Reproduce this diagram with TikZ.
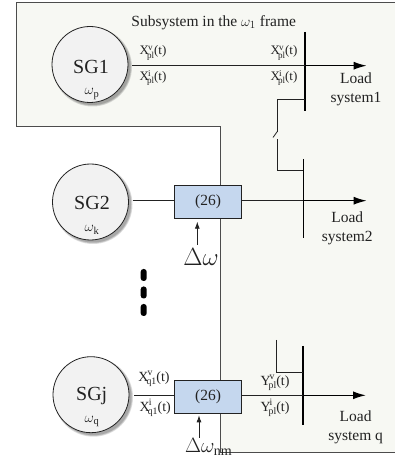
\documentclass[tikz,border=0pt]{standalone}
\usepackage{fontspec}
\setmainfont{Liberation Serif}
\usetikzlibrary{arrows.meta}
\definecolor{bgc}{HTML}{F7F8F3}
\definecolor{boxc}{HTML}{C5D7EE}
\definecolor{sgc}{HTML}{F2F2F2}
\definecolor{linec}{HTML}{222222}
\newcommand{\sgn}[3]{$\mathrm{#1}^{\kern-1pt\mathrm{#2}}_{\kern-2pt\mathrm{#3}}$\kern-0.5pt(t)}
\tikzset{
  x=1pt,y=1pt,
  gen/.style={circle,draw=linec,fill=sgc,line width=0.8pt,minimum size=76pt,inner sep=0pt},
  genshadow/.style={circle,fill=black,opacity=0.13,inner sep=0pt},
  gname/.style={font=\fontsize{20}{20}\selectfont,text=linec,inner sep=0pt},
  gfreq/.style={font=\fontsize{15}{15}\selectfont,text=linec,inner sep=0pt},
  eqbox/.style={draw=linec,fill=boxc,line width=0.9pt,minimum width=67pt,minimum height=33.5pt,inner sep=0pt,font=\fontsize{15.5}{15.5}\selectfont,text=linec},
  wire/.style={draw=linec,line width=0.8pt},
  bus/.style={draw=black,line width=1.4pt},
  feed/.style={draw=black,line width=1.4pt,-{Latex[length=13pt,width=8pt]}},
  lab/.style={font=\fontsize{13}{13}\selectfont,text=linec,inner sep=0pt},
  labb/.style={font=\fontsize{14}{14}\selectfont,text=linec,inner sep=0pt},
  load/.style={font=\fontsize{15.5}{19}\selectfont,text=linec,align=center,inner sep=0pt},
  bigdot/.style={fill=black,rounded corners=2.8pt,inner sep=0pt,minimum width=6pt,minimum height=12pt},
  dw/.style={font=\fontsize{24}{24}\selectfont,text=linec,inner sep=0pt},
}
\begin{document}
\begin{tikzpicture}
\useasboundingbox (0,0) rectangle (395,456);
% background frame
\draw[draw=black!70,fill=bgc,line width=0.8pt] (395,453.3) -- (16.7,453.3) -- (16.7,329.3) -- (220.3,329.3) -- (220.3,4) -- (395,4);
% generators
\foreach \cx/\cy in {90/391.5,90.5/254,91/61.3}{
  \foreach \s in {76,77.5,79}{
    \node[genshadow,minimum size=\s pt] at (\cx+2.5,\cy-2.5) {};
  }
}
\node[gen] (sg1) at (90,391.5) {};
\node[gen] (sg2) at (90.5,254) {};
\node[gen] (sgj) at (91,61.3) {};
\node[gname] at (91,389.3) {SG1};
\node[gname] at (92,253.3) {SG2};
\node[gname] at (91.7,60) {SGj};
\node[gfreq] at (92,362) {$\omega_{\mathrm{p}}$};
\node[gfreq] at (92,226) {$\omega_{\mathrm{k}}$};
\node[gfreq] at (92,34.5) {$\omega_{\mathrm{q}}$};
% boxes
\node[eqbox] (b2) at (208,254) {(26)};
\node[eqbox] (bj) at (208,59) {(26)};
% buses
\coordinate (b1t) at (305,424); \coordinate (b1b) at (305,345);
\coordinate (b2t) at (303.3,297); \coordinate (b2b) at (303.3,218);
\coordinate (b3t) at (303,110); \coordinate (b3b) at (303,31);
\draw[bus] (b1t) -- (b1b);
\draw[bus] (b2t) -- (b2b);
\draw[bus] (b3t) -- (b3b);
% feeders
\coordinate (e1) at (366.7,390.3); \coordinate (e2) at (366.7,255.3); \coordinate (e3) at (366,60.7);
\coordinate (j1) at (305,390.3); \coordinate (j2) at (303.3,255.3); \coordinate (j3) at (303,60.7);
\draw[wire] (132,390.3) -- (j1);
\draw[feed] (j1) -- (e1);
\draw[wire] (132.5,255.3) -- (b2.west |- j2);
\draw[wire] (b2.east |- j2) -- (j2);
\draw[feed] (j2) -- (e2);
\draw[wire] (134,60.7) -- (bj.west |- j3);
\draw[wire] (bj.east |- j3) -- (j3);
\draw[feed] (j3) -- (e3);
% switch and tie lines
\draw[wire] (b1b |- 0,356.7) -- (277.3,356.7) -- (277.3,324);
\draw[wire] (277.3,324.5) -- (273,318.5);
\draw[wire] (277.3,316.5) -- (277.3,285.3) -- (b2t |- 0,285.3);
\draw[wire] (276.7,116) -- (276.7,84) -- (b3t |- 0,84);
% delta arrows
\draw[wire,-{Latex[length=7pt,width=5pt]}] (197.3,211) -- (197.3,234.3);
\draw[wire,-{Latex[length=7pt,width=5pt]}] (199,18) -- (199,40.7);
\node[dw] at (201,199) {$\Delta\omega$};
\node[font=\fontsize{20}{20}\selectfont,text=linec,inner sep=0pt,anchor=base west] at (185,4) {$\Delta\omega_{\mathrm{nm}}$};
% dots
\node[bigdot] at (143.7,181) {};
\node[bigdot] at (143.7,163.5) {};
\node[bigdot] at (143.7,146) {};
% labels
\node[font=\fontsize{15.5}{15.5}\selectfont,text=linec,inner sep=0pt] at (213.7,433) {Subsystem in the $\omega_{1}$ frame};
\node[lab] at (153,403) {\sgn{X}{v}{pl}};
\node[lab] at (153,378) {\sgn{X}{i}{pl}};
\node[lab] at (284,403) {\sgn{X}{v}{pl}};
\node[lab] at (284,378) {\sgn{X}{i}{pl}};
\node[labb] at (154,77) {\sgn{X}{v}{q1}};
\node[labb] at (155.3,48) {\sgn{X}{i}{q1}};
\node[labb] at (275,73) {\sgn{Y}{v}{pl}};
\node[labb] at (275,48) {\sgn{Y}{i}{pl}};
\node[load] at (356,366.5) {Load\\system1};
\node[load] at (347.3,228) {Load\\system2};
\node[load] at (355.6,29) {Load\\system q};
\end{tikzpicture}
\end{document}
